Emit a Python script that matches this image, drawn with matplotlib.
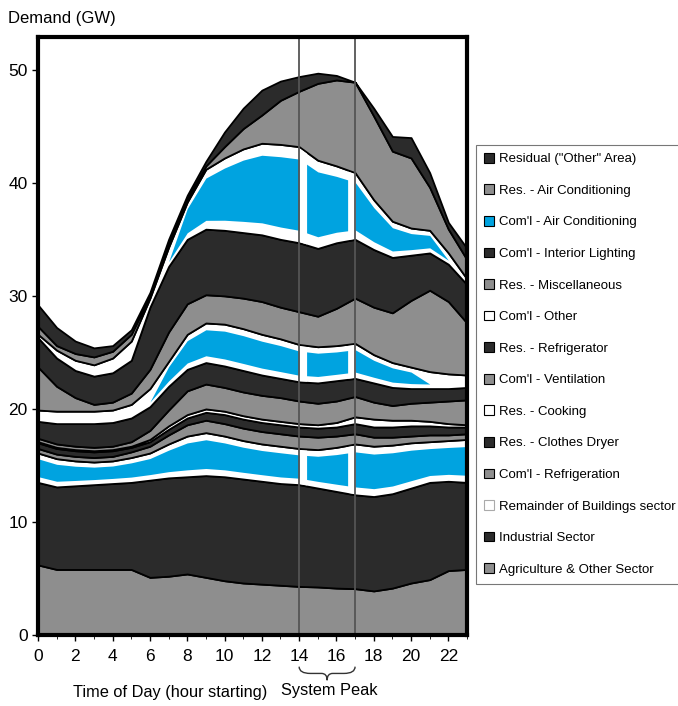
import matplotlib
matplotlib.use("Agg")
import matplotlib.pyplot as plt
from matplotlib.patches import Patch
from matplotlib.path import Path
from matplotlib.patches import PathPatch
import numpy as np

plt.rcParams['font.family'] = ['Liberation Sans', 'DejaVu Sans']

hours = np.arange(24)

# demand by end use, GW (bottom of the stack first)
agriculture = [6.2, 5.8, 5.8, 5.8, 5.8, 5.8, 5.1, 5.2, 5.4, 5.1, 4.8, 4.6,
               4.5, 4.4, 4.3, 4.25, 4.15, 4.1, 3.9, 4.15, 4.6, 4.9, 5.7, 5.8]
industrial = [7.3, 7.3, 7.4, 7.5, 7.6, 7.7, 8.6, 8.7, 8.6, 9.0, 9.2, 9.2,
              9.1, 9.0, 9.0, 8.75, 8.55, 8.3, 8.35, 8.35, 8.4, 8.6, 7.9, 7.7]
remainder = [2.6, 2.5, 2.2, 2.0, 2.0, 2.2, 2.4, 3.0, 3.6, 3.8, 3.6, 3.4,
             3.3, 3.3, 3.2, 3.4, 3.9, 4.5, 4.45, 4.3, 4.0, 3.6, 3.6, 3.8]
coml_refrig = [0.4, 0.4, 0.4, 0.4, 0.4, 0.5, 0.6, 0.8, 1.0, 1.1, 1.1, 1.1,
               1.1, 1.1, 1.1, 1.1, 1.0, 0.9, 0.8, 0.7, 0.6, 0.6, 0.5, 0.5]
res_dryer = [0.5, 0.5, 0.5, 0.5, 0.5, 0.4, 0.4, 0.5, 0.6, 0.7, 0.8, 0.8,
             0.8, 0.8, 0.8, 0.8, 0.8, 0.9, 0.9, 0.9, 0.9, 0.8, 0.7, 0.6]
res_cooking = [0.1, 0.1, 0.1, 0.1, 0.1, 0.1, 0.2, 0.3, 0.3, 0.3, 0.3, 0.3,
               0.3, 0.3, 0.3, 0.3, 0.4, 0.6, 0.7, 0.6, 0.5, 0.4, 0.3, 0.2]
coml_vent = [0.3, 0.3, 0.3, 0.3, 0.3, 0.4, 0.8, 1.4, 2.1, 2.2, 2.1, 2.1,
             2.1, 2.1, 2.0, 1.9, 1.9, 1.8, 1.5, 1.3, 1.5, 1.7, 2.0, 2.2]
res_refrig = [1.5, 1.8, 2.0, 2.1, 2.1, 2.1, 2.1, 2.1, 1.9, 1.9, 1.9, 1.9,
              1.8, 1.7, 1.7, 1.8, 1.8, 1.6, 1.7, 1.6, 1.3, 1.2, 1.1, 1.1]
coml_other = [1.0, 1.1, 1.1, 1.1, 1.1, 1.2, 1.6, 2.2, 3.1, 3.5, 3.7, 3.7,
              3.6, 3.5, 3.3, 3.2, 3.1, 3.1, 2.5, 2.2, 1.9, 1.5, 1.3, 1.1]
res_misc = [3.8, 2.2, 1.2, 0.6, 0.7, 1.0, 1.7, 2.6, 2.7, 2.5, 2.5, 2.7,
            2.9, 2.8, 2.9, 2.7, 3.3, 4.0, 4.2, 4.4, 5.9, 7.2, 6.4, 4.6]
coml_lighting = [2.6, 2.5, 2.4, 2.5, 2.6, 2.9, 5.5, 5.8, 5.7, 5.8, 5.8, 5.8,
                 5.9, 6.0, 6.1, 6.0, 5.8, 5.2, 5.1, 4.9, 4.0, 3.3, 3.3, 3.4]
coml_ac = [0.3, 0.7, 0.9, 1.0, 1.3, 1.7, 0.8, 1.7, 3.3, 5.3, 6.4, 7.4,
           8.1, 8.4, 8.5, 7.8, 6.8, 5.9, 4.4, 3.2, 2.4, 2.0, 1.0, 0.5]
res_ac = [0.7, 0.4, 0.6, 0.7, 0.6, 0.6, 0.2, 0.3, 0.3, 0.3, 1.0, 1.8,
          2.5, 3.9, 4.9, 6.8, 7.6, 8.0, 7.4, 6.2, 6.2, 3.8, 2.1, 1.7]
residual = [1.9, 1.6, 1.1, 0.8, 0.5, 0.4, 0.3, 0.4, 0.3, 0.4, 1.3, 1.8,
            2.2, 1.7, 1.3, 0.9, 0.4, 0.0, 0.7, 1.3, 1.8, 1.3, 0.6, 1.0]

labels = ['Agriculture & Other Sector', 'Industrial Sector',
          'Remainder of Buildings sector', "Com'l - Refrigeration",
          'Res. - Clothes Dryer', 'Res. - Cooking', "Com'l - Ventilation",
          'Res. - Refrigerator', "Com'l - Other", 'Res. - Miscellaneous',
          "Com'l - Interior Lighting", "Com'l - Air Conditioning",
          'Res. - Air Conditioning', 'Residual ("Other" Area)']

layers = np.array([agriculture, industrial, remainder, coml_refrig, res_dryer,
                   res_cooking, coml_vent, res_refrig, coml_other, res_misc,
                   coml_lighting, coml_ac, res_ac, residual])

dark = '#2b2b2b'
gray = '#8e8e8e'
blue = '#00a3e0'
fills = [gray, dark, 'white', gray, dark, 'white', gray, dark, 'white',
         gray, dark, 'white', gray, dark]
legend_fills = list(fills)
legend_fills[11] = blue

fig = plt.figure(figsize=(6.78, 7.06), dpi=100)
ax = fig.add_axes([38/678, 71/706, 429/678, 598/706])

ax.stackplot(hours, layers, colors=fills, edgecolor='black', linewidth=1.3)

# blue shading inside the three "white" bands that carry it
tops = np.cumsum(layers, axis=0)
bottoms = tops - layers
for k in [2, 8, 11]:
    d = layers[k]
    lo = bottoms[k] + 0.1 * d + 0.25
    hi = tops[k] - 0.1 * d - 0.25
    ax.fill_between(hours, lo, hi, where=d >= 1.8, interpolate=True,
                    color=blue, lw=0)
    # white gaps in the shading beside the peak window lines
    for a, b in [(14.0, 14.4), (16.6, 17.0)]:
        xs = np.linspace(a, b, 5)
        ax.fill_between(xs, np.interp(xs, hours, bottoms[k]) + 0.1,
                        np.interp(xs, hours, tops[k]) - 0.1,
                        color='white', lw=0)

# system peak window
for xv in [14, 17]:
    ax.axvline(xv, color='#555555', lw=1.3)

ax.set_xlim(0, 23)
ax.set_ylim(0, 52.9)
ax.set_xticks(np.arange(0, 23, 2))
ax.set_xticks(np.arange(0, 24, 1), minor=True)
ax.set_yticks(np.arange(0, 51, 10))
ax.tick_params(axis='both', labelsize=12.5, length=4, width=1, direction='out')
ax.tick_params(axis='x', which='minor', length=3)
ax.tick_params(axis='x', pad=6)
for s in ax.spines.values():
    s.set_linewidth(3)
    s.set_color('black')

fig.text(8/678, 1 - 18/706, 'Demand (GW)', fontsize=12, va='center')
fig.text(73/678, 1 - 693/706, 'Time of Day (hour starting)', fontsize=11.8,
         va='center')
fig.text(281/678, 1 - 691/706, 'System Peak', fontsize=11.8, va='center')

# curly brace under the peak window
verts = [(14.0, -2.8), (14.0, -3.4), (14.6, -3.4), (15.2, -3.4),
         (15.5, -3.4), (15.5, -4.0), (15.5, -4.0), (15.5, -3.4),
         (15.8, -3.4), (16.4, -3.4), (17.0, -3.4), (17.0, -2.8)]
codes = [Path.MOVETO, Path.CURVE3, Path.CURVE3, Path.LINETO,
         Path.CURVE3, Path.CURVE3, Path.MOVETO, Path.CURVE3,
         Path.CURVE3, Path.LINETO, Path.CURVE3, Path.CURVE3]
ax.add_patch(PathPatch(Path(verts, codes), fill=False, lw=1, color='#333333',
                       clip_on=False))

handles = [Patch(facecolor=legend_fills[i],
                 edgecolor='#aaaaaa' if i == 2 else 'black', lw=0.8)
           for i in range(len(labels) - 1, -1, -1)]
leg = fig.legend(handles, [labels[i] for i in range(len(labels) - 1, -1, -1)],
                 loc='upper left', bbox_to_anchor=(476/678, 1 - 145/706),
                 fontsize=9.5, frameon=True, fancybox=False,
                 handlelength=0.75, handleheight=0.75, handletextpad=0.4,
                 labelspacing=1.45, borderpad=0.6, borderaxespad=0)
leg.get_frame().set_edgecolor('#555555')
leg.get_frame().set_linewidth(0.8)

fig.savefig('out.png', dpi=100)
